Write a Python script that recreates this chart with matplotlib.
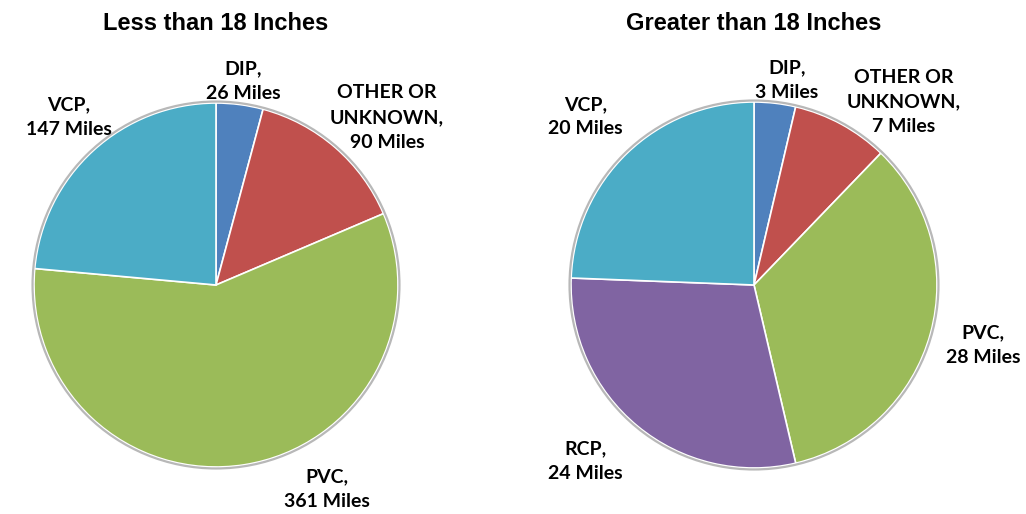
import matplotlib.pyplot as plt
from matplotlib.patches import Circle

# data
left_labels = ['DIP', 'OTHER OR\nUNKNOWN', 'PVC', 'VCP']
left_miles = [26, 90, 361, 147]
right_labels = ['DIP', 'OTHER OR\nUNKNOWN', 'PVC', 'RCP', 'VCP']
right_miles = [3, 7, 28, 24, 20]

colors = {'DIP': '#4F81BD', 'OTHER OR\nUNKNOWN': '#C0504D', 'PVC': '#9BBB59',
          'RCP': '#8064A2', 'VCP': '#4BACC6'}

# label centres in pie-radius units (layout only)
left_pos = [(0.15, 1.12), (0.94, 0.92), (0.61, -1.12), (-0.81, 0.92)]
right_pos = [(0.18, 1.12), (0.82, 1.00), (1.25, -0.33), (-0.92, -0.96), (-0.92, 0.92)]

W, H = 1026, 514
fig = plt.figure(figsize=(W / 100, H / 100), dpi=100)


def draw_pie(cx, cy, r, labels, values, positions, title):
    ax = fig.add_axes([(cx - r) / W, (H - cy - r) / H, 2 * r / W, 2 * r / H])
    wedges, _ = ax.pie(values, colors=[colors[l] for l in labels], startangle=90,
                       counterclock=False, radius=1,
                       wedgeprops=dict(edgecolor='white', linewidth=1.2))
    ax.set_xlim(-1, 1)
    ax.set_ylim(-1, 1)
    ax.set_aspect('equal')
    ax.axis('off')
    for w in wedges:
        w.set_clip_on(False)
    ax.add_patch(Circle((0, 0), 1.008, fill=False, edgecolor='#b8b8b8',
                        linewidth=1.6, clip_on=False))
    for lab, val, (x, y) in zip(labels, values, positions):
        ax.text(x, y, f'{lab},\n{val} Miles', ha='center', va='center',
                fontsize=14, fontweight='bold', family='Lato', linespacing=1.55)
    fig.text(cx / W, 1 - 23 / H, title, ha='center', va='center',
             fontsize=17, fontweight='bold', family='Liberation Sans')


draw_pie(216, 285, 182, left_labels, left_miles, left_pos, 'Less than 18 Inches')
draw_pie(754, 285, 183, right_labels, right_miles, right_pos, 'Greater than 18 Inches')

fig.savefig('out.png', dpi=100)
